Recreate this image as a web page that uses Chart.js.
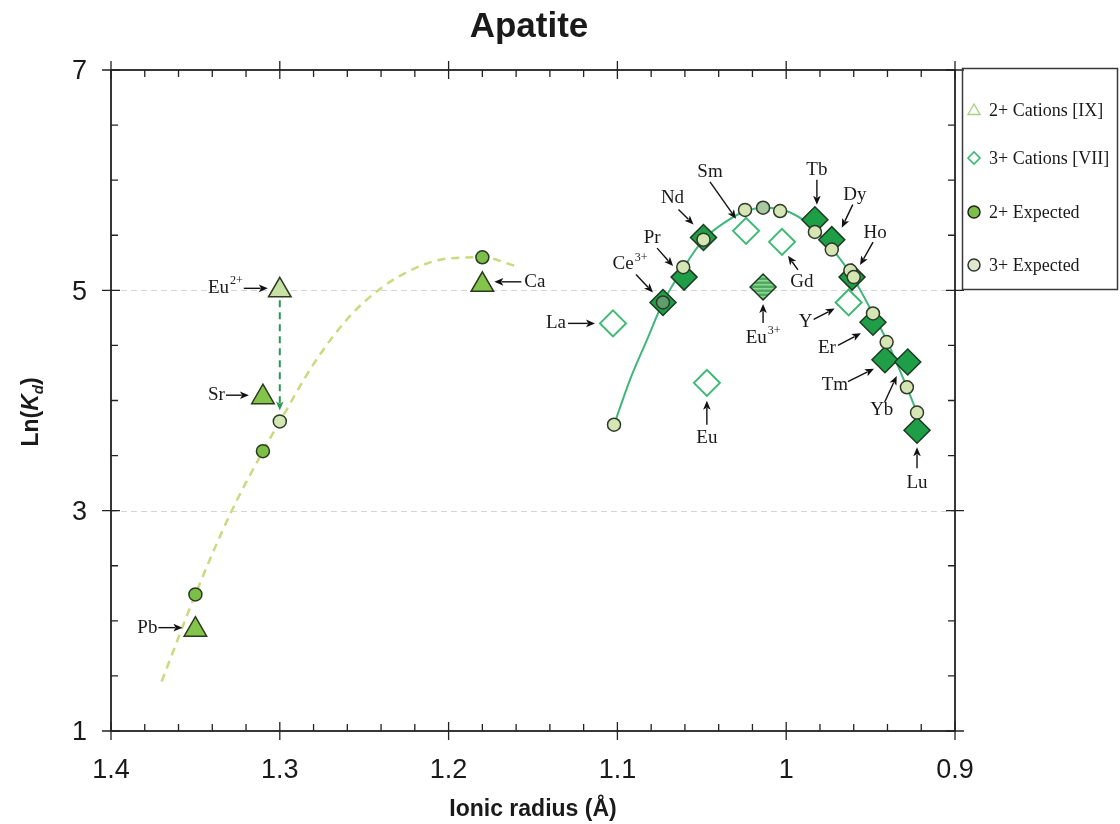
<!DOCTYPE html>
<html>
<head>
<meta charset="utf-8">
<title>Apatite</title>
<script src="https://cdn.jsdelivr.net/npm/chart.js@4.4.0/dist/chart.umd.min.js"></script>
<style>
  html, body { margin: 0; padding: 0; background: #fff; }
  canvas { display: block; }
</style>
</head>
<body>
<canvas id="chart" width="1120" height="824"></canvas>
<script>
// 2+ cations, measured (IX)
const cations2Names = ['Pb', 'Sr', 'Eu2+', 'Ca'];
const cations2Radius = [1.35, 1.31, 1.30, 1.18];
const cations2Kd = [1.92, 4.03, 5.00, 5.05];

// 2+ expected (lattice strain)
const expected2Names = ['Pb', 'Sr', 'Eu2+', 'Ca'];
const expected2Radius = [1.35, 1.31, 1.30, 1.18];
const expected2Kd = [2.24, 3.54, 3.81, 5.30];

// 3+ cations, measured (VII)
const ree3Names = ['La', 'Ce3+', 'Pr', 'Nd', 'Sm', 'Eu', 'Eu3+', 'Gd', 'Tb', 'Dy', 'Ho', 'Y', 'Er', 'Tm', 'Yb', 'Lu'];
const ree3Radius = [1.1026, 1.073, 1.0605, 1.049, 1.0238, 1.047, 1.0137, 1.0025, 0.983, 0.973, 0.961, 0.963, 0.9486, 0.9415, 0.928, 0.9225];
const ree3Kd = [4.70, 4.89, 5.12, 5.48, 5.54, 4.16, 5.03, 5.44, 5.64, 5.46, 5.12, 4.89, 4.71, 4.37, 4.35, 3.73];
// not used in the fit (open symbols)
const ree3Unfitted = ['La', 'Sm', 'Eu', 'Gd', 'Y'];

// 3+ expected
const expected3Names = ['La', 'Ce', 'Pr', 'Nd', 'Sm', 'Eu', 'Gd', 'Tb', 'Dy', 'Ho', 'Y', 'Er', 'Tm', 'Yb', 'Lu'];
const expected3Radius = [1.102, 1.073, 1.061, 1.049, 1.0244, 1.0137, 1.0036, 0.983, 0.973, 0.962, 0.960, 0.9486, 0.9405, 0.9285, 0.9225];
const expected3Kd = [3.78, 4.89, 5.21, 5.46, 5.73, 5.75, 5.72, 5.53, 5.37, 5.18, 5.12, 4.79, 4.53, 4.12, 3.89];

// fitted curves
const fit2Radius = [1.37, 1.35, 1.33, 1.31, 1.30, 1.28, 1.26, 1.24, 1.22, 1.20, 1.18, 1.16];
const fit2Kd = [1.45, 2.24, 2.95, 3.54, 3.81, 4.33, 4.74, 5.02, 5.20, 5.29, 5.30, 5.22];
const fit3Radius = [1.102, 1.0925, 1.0825, 1.073, 1.061, 1.049, 1.035, 1.024, 1.012, 1.0, 0.99, 0.983, 0.973, 0.961, 0.949, 0.940, 0.9285, 0.9225];
const fit3Kd = [3.78, 4.19, 4.55, 4.89, 5.20, 5.46, 5.63, 5.72, 5.75, 5.72, 5.64, 5.55, 5.38, 5.13, 4.80, 4.53, 4.12, 3.89];

// axes
const xTicks = [1.4, 1.3, 1.2, 1.1, 1.0, 0.9];
const xTickLabels = ['1.4', '1.3', '1.2', '1.1', '1', '0.9'];
const yTicks = [7, 5, 3, 1];
const yTickLabels = ['7', '5', '3', '1'];

const SERIF = '"Liberation Serif", "DejaVu Serif", serif';
const SANS = '"Liberation Sans", Arial, sans-serif';

function pts(xs, ys) {
    return xs.map((x, i) => ({ x: x, y: ys[i] }));
}

// hatch fill for Eu3+
function hatch() {
    const c = document.createElement('canvas');
    c.width = 4; c.height = 4;
    const g = c.getContext('2d');
    g.fillStyle = '#4eab5c';
    g.fillRect(0, 0, 4, 4);
    g.fillStyle = '#93d49b';
    g.fillRect(0, 0, 4, 1.5);
    return document.getElementById('chart').getContext('2d').createPattern(c, 'repeat');
}
const euPattern = hatch();

// text labels with arrows: text offset (tx,ty) from the mark, arrow a = [x1,y1,x2,y2]
const notes = [
    { set: 'c2', name: 'Pb', tx: -38, ty: -2, align: 'right', a: [-37, -2, -13, -2] },
    { set: 'c2', name: 'Sr', tx: -38, ty: -2, align: 'right', a: [-37, -2, -14, -2] },
    { set: 'c2', name: 'Eu2+', tx: -37, ty: -2, align: 'right', a: [-36, -2, -12, -2] },
    { set: 'c2', name: 'Ca', tx: 42, ty: -3, align: 'left', a: [39, -3, 12, -3] },
    { set: 'r3', name: 'La', tx: -47, ty: 0, align: 'right', a: [-45, 0, -18, 0] },
    { set: 'r3', name: 'Ce3+', tx: -33, ty: -38, align: 'center', a: [-27, -28, -10, -10] },
    { set: 'r3', name: 'Pr', tx: -32, ty: -39, align: 'center', a: [-27, -29, -11, -11] },
    { set: 'r3', name: 'Nd', tx: -31, ty: -39, align: 'center', a: [-25, -28, -10, -13] },
    { set: 'r3', name: 'Sm', tx: -36, ty: -59, align: 'center', a: [-36, -49, -10, -12] },
    { set: 'r3', name: 'Eu', tx: 0, ty: 55, align: 'center', a: [0, 42, 0, 18] },
    { set: 'r3', name: 'Eu3+', tx: 0, ty: 51, align: 'center', a: [0, 36, 0, 17] },
    { set: 'r3', name: 'Gd', tx: 20, ty: 40, align: 'center', a: [16, 28, 6, 14] },
    { set: 'r3', name: 'Tb', tx: 2, ty: -50, align: 'center', a: [2, -40, 2, -15] },
    { set: 'r3', name: 'Dy', tx: 23, ty: -45, align: 'center', a: [21, -35, 10, -12] },
    { set: 'r3', name: 'Ho', tx: 23, ty: -44, align: 'center', a: [21, -35, 8, -12] },
    { set: 'r3', name: 'Y', tx: -43, ty: 20, align: 'center', a: [-35, 17, -14, 6] },
    { set: 'r3', name: 'Er', tx: -46, ty: 26, align: 'center', a: [-35, 23, -12, 11] },
    { set: 'r3', name: 'Tm', tx: -50, ty: 25, align: 'center', a: [-37, 22, -11, 9] },
    { set: 'r3', name: 'Yb', tx: -26, ty: 48, align: 'center', a: [-23, 40, -11, 14] },
    { set: 'r3', name: 'Lu', tx: 0, ty: 53, align: 'center', a: [0, 38, 0, 17] }
];

function arrow(ctx, x1, y1, x2, y2, color, dash) {
    const ang = Math.atan2(y2 - y1, x2 - x1);
    const hl = 9, hw = 3.8;
    ctx.save();
    ctx.strokeStyle = color;
    ctx.fillStyle = color;
    ctx.lineWidth = dash ? 2 : 1.4;
    ctx.setLineDash(dash || []);
    ctx.beginPath();
    ctx.moveTo(x1, y1);
    ctx.lineTo(x2 - Math.cos(ang) * hl * 0.8, y2 - Math.sin(ang) * hl * 0.8);
    ctx.stroke();
    ctx.setLineDash([]);
    ctx.beginPath();
    ctx.moveTo(x2, y2);
    ctx.lineTo(x2 - Math.cos(ang) * hl + Math.sin(ang) * hw, y2 - Math.sin(ang) * hl - Math.cos(ang) * hw);
    ctx.lineTo(x2 - Math.cos(ang) * hl * 0.75, y2 - Math.sin(ang) * hl * 0.75);
    ctx.lineTo(x2 - Math.cos(ang) * hl - Math.sin(ang) * hw, y2 - Math.sin(ang) * hl + Math.cos(ang) * hw);
    ctx.closePath();
    ctx.fill();
    ctx.restore();
}

function supText(ctx, label, x, y, align) {
    const m = label.match(/^([A-Za-z]+)(\d\+)?$/);
    const main = m[1], sup = m[2] || '';
    ctx.font = '19px ' + SERIF;
    const w1 = ctx.measureText(main).width;
    ctx.font = '12px ' + SERIF;
    const w2 = sup ? ctx.measureText(sup).width + 1 : 0;
    let x0 = x;
    if (align === 'center') x0 = x - (w1 + w2) / 2;
    if (align === 'right') x0 = x - (w1 + w2);
    ctx.fillStyle = '#1a1a1a';
    ctx.textAlign = 'left';
    ctx.textBaseline = 'middle';
    ctx.font = '19px ' + SERIF;
    ctx.fillText(main, x0, y);
    if (sup) {
        ctx.font = '12px ' + SERIF;
        ctx.fillText(sup, x0 + w1 + 1, y - 7);
    }
}

const decorPlugin = {
    id: 'decor',
    beforeDatasetsDraw(chart) {
        const ctx = chart.ctx, a = chart.chartArea, ys = chart.scales.y;
        ctx.save();
        ctx.strokeStyle = '#d4d4d4';
        ctx.lineWidth = 1;
        ctx.setLineDash([6, 4]);
        [3, 5].forEach(v => {
            const y = Math.round(ys.getPixelForValue(v)) + 0.5;
            ctx.beginPath();
            ctx.moveTo(a.left, y);
            ctx.lineTo(a.right, y);
            ctx.stroke();
        });
        ctx.restore();
    },
    afterDatasetsDraw(chart) {
        const ctx = chart.ctx, a = chart.chartArea;
        const xs = chart.scales.x, ys = chart.scales.y;

        // Eu2+ -> expected dashed arrow
        const iEu = cations2Names.indexOf('Eu2+');
        const ex = xs.getPixelForValue(cations2Radius[iEu]);
        arrow(ctx, ex, ys.getPixelForValue(cations2Kd[iEu]) + 10,
              ex, ys.getPixelForValue(expected2Kd[expected2Names.indexOf('Eu2+')]) - 11, '#2b9a50', [7, 5]);

        // annotations
        notes.forEach(n => {
            let px, py;
            if (n.set === 'c2') {
                const i = cations2Names.indexOf(n.name);
                px = xs.getPixelForValue(cations2Radius[i]);
                py = ys.getPixelForValue(cations2Kd[i]);
            } else {
                const i = ree3Names.indexOf(n.name);
                px = xs.getPixelForValue(ree3Radius[i]);
                py = ys.getPixelForValue(ree3Kd[i]);
            }
            arrow(ctx, px + n.a[0], py + n.a[1], px + n.a[2], py + n.a[3], '#111');
            supText(ctx, n.name, px + n.tx, py + n.ty, n.align);
        });

        // frame and ticks
        ctx.save();
        ctx.strokeStyle = '#222';
        ctx.lineWidth = 1.8;
        ctx.strokeRect(a.left, a.top, a.right - a.left, a.bottom - a.top);
        ctx.lineWidth = 1.3;
        ctx.beginPath();
        for (let k = 0; k <= 25; k++) {
            const v = 1.4 - k * 0.02;
            const x = xs.getPixelForValue(v);
            const major = k % 5 === 0;
            ctx.moveTo(x, a.bottom + (major ? 9 : 0)); ctx.lineTo(x, a.bottom - (major ? 9 : 7));
            ctx.moveTo(x, a.top - (major ? 9 : 0)); ctx.lineTo(x, a.top + (major ? 9 : 7));
        }
        for (let k = 0; k <= 12; k++) {
            const v = 1 + k * 0.5;
            const y = ys.getPixelForValue(v);
            const major = k % 4 === 0;
            ctx.moveTo(a.left - (major ? 9 : 0), y); ctx.lineTo(a.left + (major ? 9 : 7), y);
            ctx.moveTo(a.right + (major ? 9 : 0), y); ctx.lineTo(a.right - (major ? 9 : 7), y);
        }
        ctx.stroke();

        // tick labels
        ctx.fillStyle = '#1a1a1a';
        ctx.font = '27px ' + SANS;
        ctx.textAlign = 'center';
        ctx.textBaseline = 'alphabetic';
        xTicks.forEach((v, i) => ctx.fillText(xTickLabels[i], xs.getPixelForValue(v), 778));
        ctx.textAlign = 'right';
        ctx.textBaseline = 'middle';
        yTicks.forEach((v, i) => ctx.fillText(yTickLabels[i], 87, ys.getPixelForValue(v) + 2));

        // titles
        ctx.textAlign = 'center';
        ctx.textBaseline = 'alphabetic';
        ctx.font = 'bold 35px ' + SANS;
        ctx.fillText('Apatite', 529, 37);
        ctx.font = 'bold 23px ' + SANS;
        ctx.fillText('Ionic radius (Å)', 533, 816);

        // y title Ln(K_d)
        ctx.save();
        ctx.translate(30, 412);
        ctx.rotate(-Math.PI / 2);
        const parts = [
            ['Ln(', 'bold 23px ' + SANS, 0],
            ['K', 'italic bold 23px ' + SANS, 0],
            ['d', 'italic bold 15px ' + SANS, 5],
            [')', 'bold 23px ' + SANS, 0]
        ];
        let tw = 0;
        parts.forEach(p => { ctx.font = p[1]; tw += ctx.measureText(p[0]).width; });
        let cx = -tw / 2;
        ctx.textAlign = 'left';
        parts.forEach(p => {
            ctx.font = p[1];
            ctx.fillText(p[0], cx, 8 + p[2]);
            cx += ctx.measureText(p[0]).width;
        });
        ctx.restore();

        // legend
        ctx.lineWidth = 1.5;
        ctx.strokeStyle = '#3a3a3a';
        ctx.strokeRect(962.5, 68.5, 155, 221);
        const items = [
            { label: '2+ Cations [IX]', style: { pointStyle: 'triangle', radius: 7, borderWidth: 1.3, borderColor: '#a5d17c', backgroundColor: 'rgba(0,0,0,0)' } },
            { label: '3+ Cations [VII]', style: { pointStyle: 'rectRot', radius: 6, borderWidth: 1.6, borderColor: '#3dba72', backgroundColor: 'rgba(0,0,0,0)' } },
            { label: '2+ Expected', style: { pointStyle: 'circle', radius: 6, borderWidth: 1.5, borderColor: '#222', backgroundColor: '#7cbf48' } },
            { label: '3+ Expected', style: { pointStyle: 'circle', radius: 6, borderWidth: 1.5, borderColor: '#333', backgroundColor: '#dfe8cc' } }
        ];
        const rows = [110, 158, 212, 265];
        items.forEach((it, i) => {
            ctx.save();
            ctx.strokeStyle = it.style.borderColor;
            ctx.fillStyle = it.style.backgroundColor;
            ctx.lineWidth = it.style.borderWidth;
            Chart.helpers.drawPoint(ctx, { pointStyle: it.style.pointStyle, radius: it.style.radius, borderWidth: it.style.borderWidth, rotation: 0 }, 974, rows[i] + (i === 0 ? 1 : 0));
            ctx.restore();
            ctx.fillStyle = '#1a1a1a';
            ctx.font = '18px ' + SERIF;
            ctx.textAlign = 'left';
            ctx.textBaseline = 'middle';
            ctx.fillText(it.label, 989, rows[i] + 1);
        });
        ctx.restore();
    }
};

const ctx = document.getElementById('chart').getContext('2d');
const chart = new Chart(ctx, {
    type: 'scatter',
    data: {
        datasets: [
            {
                label: '3+ Expected',
                data: pts(expected3Radius, expected3Kd),
                pointStyle: 'circle',
                pointRadius: 6.5,
                borderWidth: 1.5,
                borderColor: '#2e3a2a',
                backgroundColor: expected3Names.map(n => n === 'Ce' ? '#5f9e6b' : n === 'Eu' ? '#a9c8a2' : '#d5e5b4')
            },
            {
                label: '2+ Expected',
                data: pts(expected2Radius, expected2Kd),
                pointStyle: 'circle',
                pointRadius: 6.5,
                borderWidth: 1.5,
                borderColor: '#2b3a1f',
                backgroundColor: expected2Names.map(n => n === 'Eu2+' ? '#d3e4b5' : '#7cbf48')
            },
            {
                label: '2+ Cations [IX]',
                data: pts(cations2Radius, cations2Kd),
                pointStyle: 'triangle',
                pointRadius: 13,
                borderWidth: 1.5,
                borderColor: '#2b3a1f',
                backgroundColor: cations2Names.map(n => n === 'Eu2+' ? '#c6e1a3' : '#84c44a')
            },
            {
                label: '3+ Cations [VII]',
                data: pts(ree3Radius, ree3Kd),
                pointStyle: 'rectRot',
                pointRadius: 13,
                borderWidth: ree3Names.map(n => ree3Unfitted.includes(n) ? 2 : 1.5),
                borderColor: ree3Names.map(n => ree3Unfitted.includes(n) ? '#3dba72' : '#1c3a22'),
                backgroundColor: ree3Names.map(n => ree3Unfitted.includes(n) ? 'rgba(255,255,255,0)' : n === 'Eu3+' ? euPattern : '#1f9e48')
            },
            {
                label: '3+ fit',
                data: pts(fit3Radius, fit3Kd),
                showLine: true,
                pointRadius: 0,
                borderColor: '#3fb77c',
                borderWidth: 2,
                cubicInterpolationMode: 'monotone'
            },
            {
                label: '2+ fit',
                data: pts(fit2Radius, fit2Kd),
                showLine: true,
                pointRadius: 0,
                borderColor: '#c9da80',
                borderWidth: 2.5,
                borderDash: [8, 6],
                cubicInterpolationMode: 'monotone'
            }
        ]
    },
    options: {
        responsive: false,
        animation: false,
        layout: { padding: { left: 111, right: 165, top: 70, bottom: 93 } },
        scales: {
            x: { type: 'linear', reverse: true, min: 0.9, max: 1.4, display: false },
            y: { type: 'linear', min: 1, max: 7, display: false }
        },
        plugins: {
            legend: { display: false },
            title: { display: false },
            tooltip: { enabled: false }
        }
    },
    plugins: [decorPlugin]
});
</script>
</body>
</html>
